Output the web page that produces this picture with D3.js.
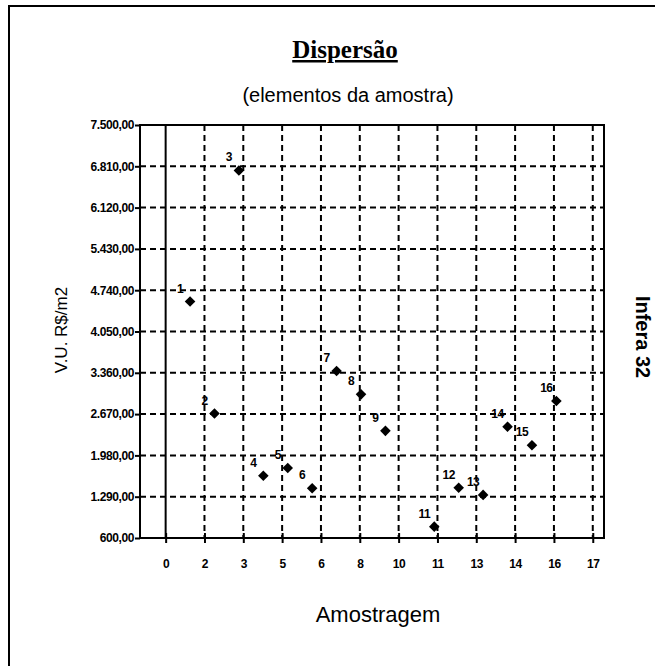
<!DOCTYPE html>
<html><head><meta charset="utf-8">
<script src="https://cdn.jsdelivr.net/npm/d3@7"></script>
<style>html,body{margin:0;padding:0;background:#fff;}</style>
</head><body>
<svg id="chart" width="655" height="666"></svg>
<script>
const sampleIds   = [1, 2, 3, 4, 5, 6, 7, 8, 9, 11, 12, 13, 14, 15, 16];
const unitValues  = [4550, 2680, 6740, 1640, 1770, 1430, 3390, 3000, 2390, 790, 1440, 1320, 2460, 2150, 2890];
const pointLabels = ["1","2","3","4","5","6","7","8","9","11","12","13","14","15","16"];
const xTickValues = [0, 1.59, 3.18, 4.77, 6.36, 7.95, 9.54, 11.13, 12.72, 14.31, 15.9, 17.49];
const yTickValues = [600, 1290, 1980, 2670, 3360, 4050, 4740, 5430, 6120, 6810, 7500];

const svg = d3.select("#chart");
const L = 140, R = 604, T = 125, B = 538;
const x = d3.scaleLinear().domain([-1.05, 17.95]).range([L, R]);
const y = d3.scaleLinear().domain([600, 7500]).range([B, T]);
const ptBR = d3.formatLocale({decimal: ",", thousands: ".", grouping: [3], currency: ["R$", ""]});
const fmtY = ptBR.format(",.2f");
const fmtX = d3.format(".0f");
const SANS = "Liberation Sans, Arial, sans-serif";

svg.append("rect").attr("width", 655).attr("height", 666).attr("fill", "#fff");
// outer frame
svg.append("path").attr("d", "M9,666 V6 H655").attr("fill", "none").attr("stroke", "#000").attr("stroke-width", 2);

// title
svg.append("text").attr("x", 345).attr("y", 58).attr("text-anchor", "middle")
  .attr("font-family", "Liberation Serif, Times New Roman, serif").attr("font-weight", "bold")
  .attr("font-size", 25).attr("text-decoration", "underline").text("Dispersão");
svg.append("text").attr("x", 348).attr("y", 102).attr("text-anchor", "middle")
  .attr("font-family", SANS).attr("font-size", 20)
  .text("(elementos da amostra)");

const g = svg.append("g");
g.selectAll(".hg").data(yTickValues.filter(v => v > 600 && v < 7500)).join("line")
  .attr("x1", L).attr("x2", R).attr("y1", d => y(d)).attr("y2", d => y(d))
  .attr("stroke", "#000").attr("stroke-width", 2).attr("stroke-dasharray", "6,4");
g.selectAll(".vg").data(xTickValues.filter(v => v > 0)).join("line")
  .attr("x1", d => x(d)).attr("x2", d => x(d)).attr("y1", T).attr("y2", B)
  .attr("stroke", "#000").attr("stroke-width", 2).attr("stroke-dasharray", "6,4");
g.append("line").attr("x1", x(0)).attr("x2", x(0)).attr("y1", T).attr("y2", B)
  .attr("stroke", "#000").attr("stroke-width", 2);
g.append("rect").attr("x", L).attr("y", T).attr("width", R - L).attr("height", B - T)
  .attr("fill", "none").attr("stroke", "#000").attr("stroke-width", 2);

// y axis
const yAxis = d3.axisLeft(y).tickValues(yTickValues).tickFormat(fmtY).tickSize(5).tickPadding(1);
const ya = svg.append("g").attr("transform", `translate(${L},0)`).call(yAxis);
ya.select(".domain").remove();
ya.selectAll("line").attr("stroke", "#000").attr("stroke-width", 2);
ya.selectAll("text").attr("font-family", SANS)
  .attr("font-weight", "bold").attr("font-size", 12).attr("letter-spacing", -0.4).attr("fill", "#000");

// x axis
const xAxis = d3.axisBottom(x).tickValues(xTickValues).tickFormat(fmtX).tickSize(5).tickPadding(16);
const xa = svg.append("g").attr("transform", `translate(0,${B})`).call(xAxis);
xa.select(".domain").remove();
xa.selectAll("line").attr("stroke", "#000").attr("stroke-width", 2).attr("y1", -5);
xa.selectAll("text").attr("font-family", SANS)
  .attr("font-weight", "bold").attr("font-size", 12).attr("letter-spacing", -0.4).attr("fill", "#000");

// axis titles
svg.append("text").attr("transform", "translate(378,622)").attr("text-anchor", "middle")
  .attr("font-family", SANS).attr("font-size", 22).text("Amostragem");
svg.append("text").attr("transform", "translate(67,330) rotate(-90)").attr("text-anchor", "middle")
  .attr("font-family", SANS).attr("font-size", 17).text("V.U. R$/m2");
svg.append("text").attr("transform", "translate(636,337) rotate(90)").attr("text-anchor", "middle")
  .attr("font-family", SANS).attr("font-weight", "bold").attr("font-size", 20).text("Infera 32");

// points
const pts = sampleIds.map((s, i) => ({s, v: unitValues[i], lab: pointLabels[i]}));
svg.selectAll(".pt").data(pts).join("path")
  .attr("d", d3.symbol().type(d3.symbolSquare).size(56))
  .attr("transform", d => `translate(${x(d.s)},${y(d.v)}) rotate(45)`).attr("fill", "#000");
svg.selectAll(".pl").data(pts).join("text")
  .attr("x", d => x(d.s) - 10).attr("y", d => y(d.v) - 9).attr("text-anchor", "middle")
  .attr("font-family", SANS).attr("font-weight", "bold").attr("font-size", 12)
  .attr("letter-spacing", -0.5).text(d => d.lab);
</script>
</body></html>
